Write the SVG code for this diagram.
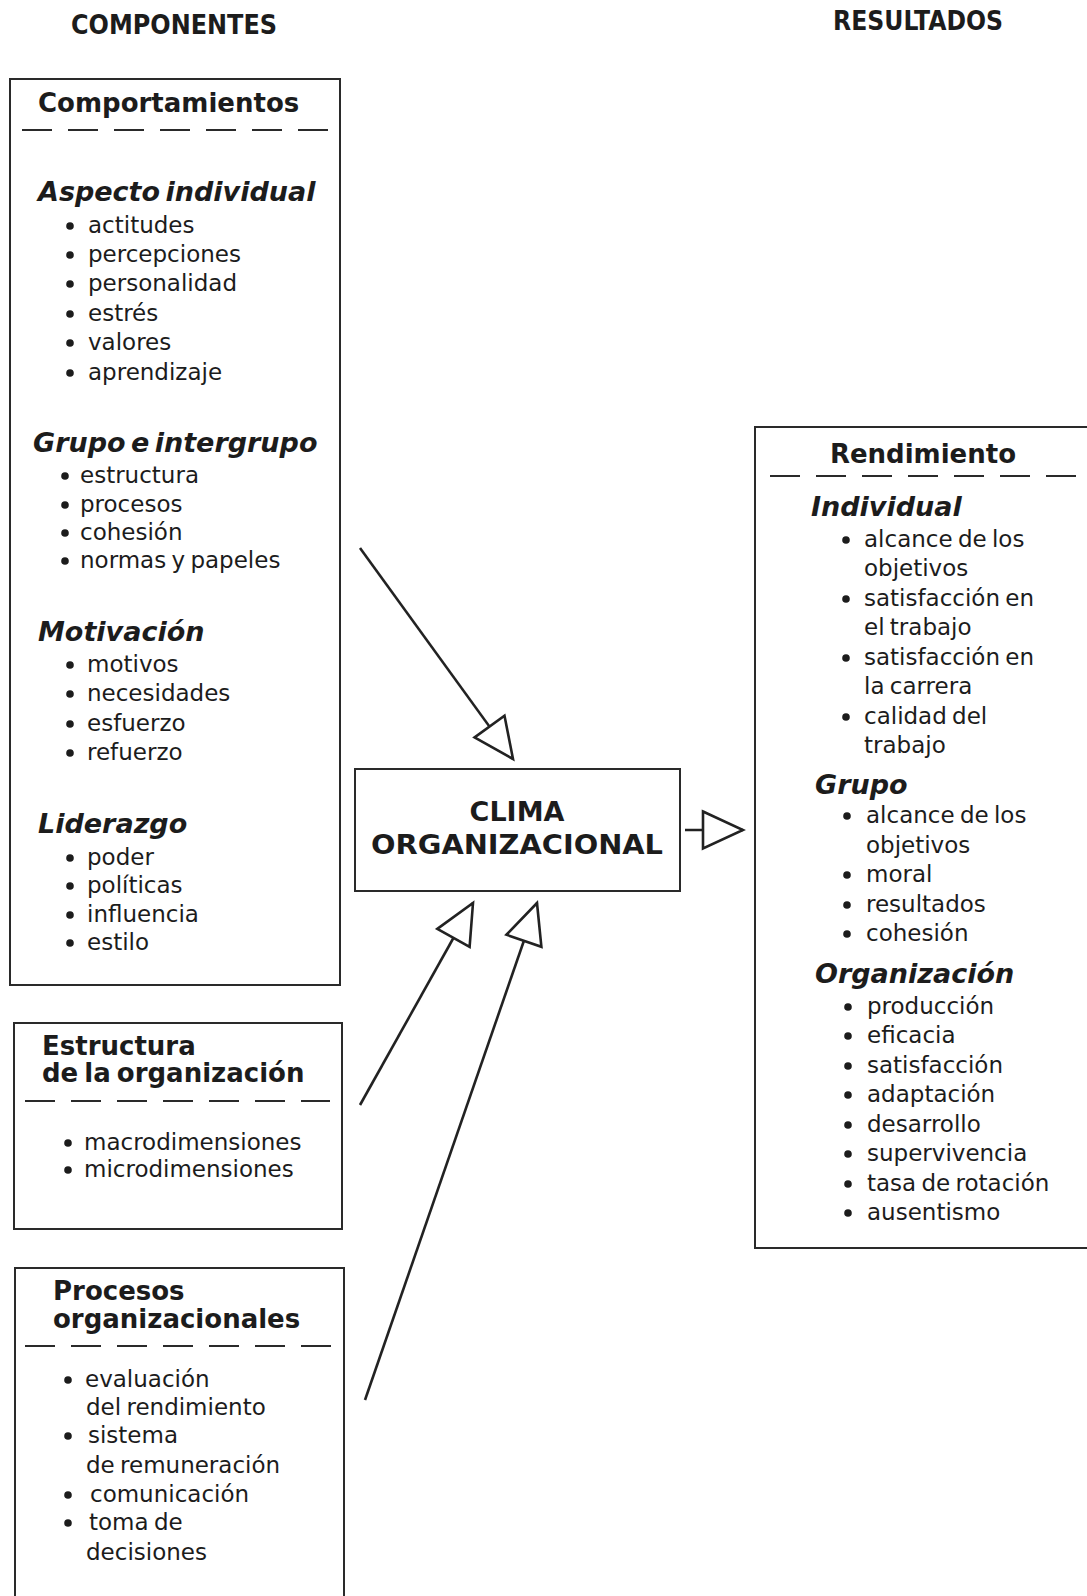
<svg xmlns="http://www.w3.org/2000/svg" width="1087" height="1596" viewBox="0 0 1087 1596">
<defs>
<style>
text{fill:#1c1c1c;font-family:"DejaVu Sans","Liberation Sans",sans-serif}
.hd{font-family:"DejaVu Sans Condensed","DejaVu Sans",sans-serif;font-weight:bold;font-size:26px}
.ti{font-weight:bold;font-size:26px;word-spacing:-3px}
.se{font-weight:bold;font-style:italic;font-size:27px;word-spacing:-4px}
.it{font-size:23px;word-spacing:-2px}
.cl{font-weight:bold;font-size:27px}
.box{fill:#fff;stroke:#2a2a2a;stroke-width:2}
.dash{stroke:#2a2a2a;stroke-width:2;stroke-dasharray:30 16}
.bul{fill:#1c1c1c}
.con{stroke:#222;stroke-width:2.6;fill:none}
</style>
<marker id="ah" markerUnits="userSpaceOnUse" markerWidth="46" markerHeight="43" viewBox="-3 -3 46 43" refX="40" refY="18.5" orient="auto">
<path d="M0,0 L40,18.5 L0,37 Z" fill="#fff" stroke="#222" stroke-width="2.6"/>
</marker>
<circle id="b" r="3.8" class="bul"/>
</defs>
<rect width="1087" height="1596" fill="#fff"/>

<g id="headers">
<text class="hd" x="174" y="34" text-anchor="middle" textLength="206" lengthAdjust="spacingAndGlyphs">COMPONENTES</text>
<text class="hd" x="918" y="30" text-anchor="middle" textLength="170" lengthAdjust="spacingAndGlyphs">RESULTADOS</text>
</g>

<g id="comportamientos">
<rect class="box" x="10" y="79" width="330" height="906"/>
<text class="ti" x="38" y="112">Comportamientos</text>
<line class="dash" x1="22" y1="130" x2="328" y2="130"/>
<text class="se" x="38" y="201">Aspecto individual</text>
<use href="#b" x="70" y="226"/><text class="it" x="88" y="233">actitudes</text>
<use href="#b" x="70" y="255"/><text class="it" x="88" y="262">percepciones</text>
<use href="#b" x="70" y="284"/><text class="it" x="88" y="291">personalidad</text>
<use href="#b" x="70" y="314"/><text class="it" x="88" y="321">estrés</text>
<use href="#b" x="70" y="343"/><text class="it" x="88" y="350">valores</text>
<use href="#b" x="70" y="373"/><text class="it" x="88" y="380">aprendizaje</text>
<text class="se" x="33" y="452">Grupo e intergrupo</text>
<use href="#b" x="65" y="476"/><text class="it" x="80" y="483">estructura</text>
<use href="#b" x="65" y="505"/><text class="it" x="80" y="512">procesos</text>
<use href="#b" x="65" y="533"/><text class="it" x="80" y="540">cohesión</text>
<use href="#b" x="65" y="561"/><text class="it" x="80" y="568">normas y papeles</text>
<text class="se" x="38" y="641">Motivación</text>
<use href="#b" x="70" y="665"/><text class="it" x="87" y="672">motivos</text>
<use href="#b" x="70" y="694"/><text class="it" x="87" y="701">necesidades</text>
<use href="#b" x="70" y="724"/><text class="it" x="87" y="731">esfuerzo</text>
<use href="#b" x="70" y="753"/><text class="it" x="87" y="760">refuerzo</text>
<text class="se" x="38" y="833">Liderazgo</text>
<use href="#b" x="70" y="858"/><text class="it" x="87" y="865">poder</text>
<use href="#b" x="70" y="886"/><text class="it" x="87" y="893">políticas</text>
<use href="#b" x="70" y="915"/><text class="it" x="87" y="922">influencia</text>
<use href="#b" x="70" y="943"/><text class="it" x="87" y="950">estilo</text>
</g>

<g id="estructura">
<rect class="box" x="14" y="1023" width="328" height="206"/>
<text class="ti" x="42" y="1055">Estructura</text>
<text class="ti" x="42" y="1082">de la organización</text>
<line class="dash" x1="25" y1="1101" x2="330" y2="1101"/>
<use href="#b" x="68" y="1143"/><text class="it" x="84" y="1150">macrodimensiones</text>
<use href="#b" x="68" y="1170"/><text class="it" x="84" y="1177">microdimensiones</text>
</g>

<g id="procesos">
<rect class="box" x="15" y="1268" width="329" height="400"/>
<text class="ti" x="53" y="1300">Procesos</text>
<text class="ti" x="53" y="1328">organizacionales</text>
<line class="dash" x1="25" y1="1346" x2="331" y2="1346"/>
<use href="#b" x="68" y="1380"/><text class="it" x="85" y="1387">evaluación</text>
<text class="it" x="86" y="1415">del rendimiento</text>
<use href="#b" x="68" y="1436"/><text class="it" x="88" y="1443">sistema</text>
<text class="it" x="86" y="1473">de remuneración</text>
<use href="#b" x="68" y="1495"/><text class="it" x="90" y="1502">comunicación</text>
<use href="#b" x="68" y="1523"/><text class="it" x="89" y="1530">toma de</text>
<text class="it" x="86" y="1560">decisiones</text>
</g>

<g id="clima">
<rect class="box" x="355" y="769" width="325" height="122"/>
<text class="cl" x="517" y="821" text-anchor="middle">CLIMA</text>
<text class="cl" x="517" y="854" text-anchor="middle" textLength="292" lengthAdjust="spacingAndGlyphs">ORGANIZACIONAL</text>
</g>

<g id="rendimiento">
<rect class="box" x="755" y="427" width="340" height="821"/>
<text class="ti" x="923" y="463" text-anchor="middle">Rendimiento</text>
<line class="dash" x1="770" y1="476" x2="1077" y2="476"/>
<text class="se" x="811" y="516">Individual</text>
<use href="#b" x="846" y="540"/><text class="it" x="864" y="547">alcance de los</text>
<text class="it" x="864" y="576">objetivos</text>
<use href="#b" x="846" y="599"/><text class="it" x="864" y="606">satisfacción en</text>
<text class="it" x="864" y="635">el trabajo</text>
<use href="#b" x="846" y="658"/><text class="it" x="864" y="665">satisfacción en</text>
<text class="it" x="864" y="694">la carrera</text>
<use href="#b" x="846" y="717"/><text class="it" x="864" y="724">calidad del</text>
<text class="it" x="864" y="753">trabajo</text>
<text class="se" x="815" y="794">Grupo</text>
<use href="#b" x="847" y="816"/><text class="it" x="866" y="823">alcance de los</text>
<text class="it" x="866" y="853">objetivos</text>
<use href="#b" x="847" y="875"/><text class="it" x="866" y="882">moral</text>
<use href="#b" x="847" y="905"/><text class="it" x="866" y="912">resultados</text>
<use href="#b" x="847" y="934"/><text class="it" x="866" y="941">cohesión</text>
<text class="se" x="815" y="983">Organización</text>
<use href="#b" x="848" y="1007"/><text class="it" x="867" y="1014">producción</text>
<use href="#b" x="848" y="1036"/><text class="it" x="867" y="1043">eficacia</text>
<use href="#b" x="848" y="1066"/><text class="it" x="867" y="1073">satisfacción</text>
<use href="#b" x="848" y="1095"/><text class="it" x="867" y="1102">adaptación</text>
<use href="#b" x="848" y="1125"/><text class="it" x="867" y="1132">desarrollo</text>
<use href="#b" x="848" y="1154"/><text class="it" x="867" y="1161">supervivencia</text>
<use href="#b" x="848" y="1184"/><text class="it" x="867" y="1191">tasa de rotación</text>
<use href="#b" x="848" y="1213"/><text class="it" x="867" y="1220">ausentismo</text>
</g>

<g id="connectors">
<line class="con" x1="360" y1="548" x2="513" y2="759" marker-end="url(#ah)"/>
<line class="con" x1="360" y1="1105" x2="473" y2="903" marker-end="url(#ah)"/>
<line class="con" x1="365" y1="1400" x2="537" y2="903" marker-end="url(#ah)"/>
<line class="con" x1="685" y1="830" x2="743" y2="830" marker-end="url(#ah)"/>
</g>
</svg>
